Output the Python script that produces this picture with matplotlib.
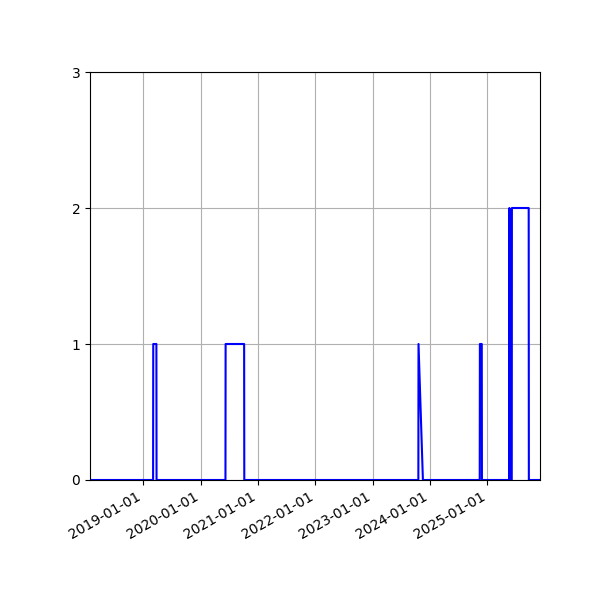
import matplotlib
matplotlib.use("Agg")
import matplotlib.pyplot as plt
import matplotlib.dates as mdates
import pandas as pd

dates = [
    "2018-01-26",
    "2019-03-04", "2019-03-05", "2019-03-25", "2019-03-26",
    "2020-06-07", "2020-06-08", "2020-10-04", "2020-10-05",
    "2023-10-19", "2023-10-20", "2023-11-17",
    "2024-11-13", "2024-11-14", "2024-11-26", "2024-11-27",
    "2025-05-20", "2025-05-21", "2025-05-22", "2025-06-05", "2025-06-06",
    "2025-09-21", "2025-09-22",
    "2025-12-02",
]
values = [
    0,
    0, 1, 1, 0,
    0, 1, 1, 0,
    0, 1, 0,
    0, 1, 1, 0,
    0, 2, 0, 0, 2,
    2, 0,
    0,
]
y_ticks = [0, 1, 2, 3]

x = pd.to_datetime(dates)

fig = plt.figure(figsize=(6, 6), dpi=100)
ax = fig.add_subplot(111)
ax.plot(x, values, color="blue")
ax.set_xlim(x[0], x[-1])
ax.set_ylim(0, 3)
ax.set_yticks(y_ticks)
ax.xaxis.set_major_locator(mdates.YearLocator())
ax.xaxis.set_major_formatter(mdates.DateFormatter("%Y-%m-%d"))
ax.grid(True)
fig.autofmt_xdate()
fig.subplots_adjust(left=0.15, right=0.9, top=0.88, bottom=0.2)
fig.savefig("out.png")
